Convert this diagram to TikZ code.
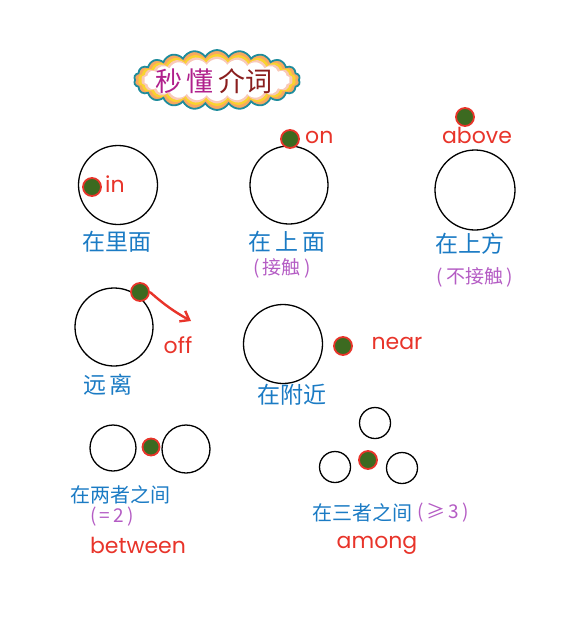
\documentclass[tikz,border=0pt]{standalone}
\usepackage{fontspec}
\setmainfont{Poppins}
\newfontfamily\cjk{Noto Sans CJK SC}
\usetikzlibrary{shapes.symbols,arrows.meta}
\definecolor{cblue}{HTML}{1B7BC4}
\definecolor{cpurple}{HTML}{B45CC4}
\definecolor{cred}{HTML}{E8342A}
\definecolor{cgreen}{HTML}{3C6A20}
\definecolor{cteal}{HTML}{1E8C9C}
\definecolor{ctitleA}{HTML}{B0208C}
\definecolor{ctitleB}{HTML}{8A1E1E}
\definecolor{cband}{HTML}{F7A860}
\definecolor{cpink}{HTML}{F9C9B8}
\tikzset{
  ring/.style={circle,draw=black,line width=1.3pt,minimum size=#1,inner sep=0pt},
  ball/.style={circle,draw=cred,fill=cgreen,line width=1.8pt,minimum size=#1,inner sep=0pt},
  zh/.style={text=cblue,font=\cjk\fontsize{23}{26}\selectfont,inner sep=0pt},
  zhs/.style={text=cblue,font=\cjk\fontsize{20}{23}\selectfont,inner sep=0pt},
  note/.style={text=cpurple,font=\cjk\fontsize{19}{22}\selectfont,inner sep=0pt},
  en/.style={text=cred,font=\fontsize{22}{25}\selectfont,inner sep=0pt},
  puff/.style={cloud,cloud puffs=22,cloud puff arc=120,aspect=2.9},
}
\begin{document}
\begin{tikzpicture}[x=1pt,y=-1pt]
\useasboundingbox (0,0) rectangle (584,626);
% title cloud
\node[puff,minimum width=166,minimum height=60,
  draw=cteal,line width=1.8pt,fill=cband] (cloudA) at (217,80) {};
\node[puff,minimum width=158,minimum height=52,
  fill=yellow!55!cband] (cloudB) at (217,80) {};
\node[puff,minimum width=152,minimum height=47,
  fill=cpink] (cloudC) at (217,80) {};
\node[puff,minimum width=146,minimum height=42,
  fill=white] (cloudD) at (217,80) {};
\node[inner sep=0pt,font=\cjk\fontsize{27}{30}\selectfont] (title) at (214,81)
  {\textcolor{ctitleA}{秒\,懂}\,\textcolor{ctitleB}{介词}};
% in
\node[ring=79] (c1) at (118,185) {};
\node[ball=18] (d1) at (92,187) {};
\node[en,anchor=west] (t1) at (105,184) {in};
\node[zh] (z1) at (117,242) {在里面};
% on
\node[ring=78] (c2) at (289,185) {};
\node[ball=18] (d2) at (290,139) {};
\node[en,anchor=west] (t2) at (305,137) {on};
\node[zh] (z2) at (287,242) {在\,上\,面};
\node[note] (n2) at (282,268) {(\,接触\,)};
% above
\node[ring=80] (c3) at (475,190) {};
\node[ball=18] (d3) at (465,117) {};
\node[en] (t3) at (477,135) {above};
\node[zh] (z3) at (470,244) {在上方};
\node[note] (n3) at (475,277) {(\,不接触\,)};
% off
\node[ring=78] (c4) at (114,327) {};
\node[ball=18] (d4) at (140,292) {};
\coordinate (a4) at (191,321);
\draw[cred,line width=2.4pt,-{Straight Barb[length=8pt,width=12pt]}] (d4.east) to[bend right=6] (a4);
\node[en] (t4) at (178,345) {off};
\node[zh] (z4) at (108,385) {远\,离};
% near
\node[ring=79] (c5) at (283,344) {};
\node[ball=18] (d5) at (343,346) {};
\node[en] (t5) at (397,343) {near};
\node[zh] (z5) at (292,395) {在附近};
% between
\node[ring=46] (c6a) at (113,448) {};
\node[ring=48] (c6b) at (186,449) {};
\node[ball=17] (d6) at (151,447) {};
\node[zhs] (z6) at (120,495) {在两者之间};
\node[note] (n6) at (112,517) {(\,=\,2\,)};
\node[en] (t6) at (138,545) {between};
% among
\node[ring=31] (c7a) at (375,423) {};
\node[ring=31] (c7b) at (335,467) {};
\node[ring=31] (c7c) at (402,468) {};
\node[ball=18] (d7) at (368,460) {};
\node[zhs,anchor=east] (z7) at (413,513) {在三者之间};
\node[note,anchor=west] (n7) at (417,513) {(\,≥\,3\,)};
\node[en] (t7) at (377,545) {among};
\end{tikzpicture}
\end{document}
